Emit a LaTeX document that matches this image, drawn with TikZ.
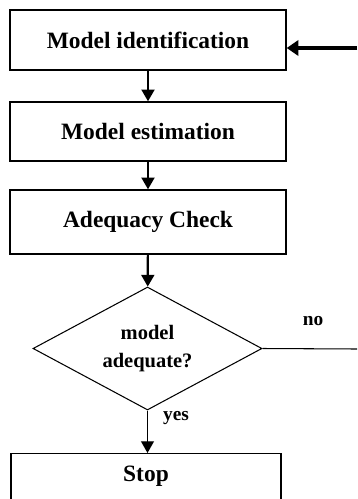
\documentclass[tikz,border=0pt]{standalone}
\usepackage{fontspec}
\setmainfont{Liberation Serif}
\usetikzlibrary{shapes.geometric,arrows.meta}
\begin{document}
\begin{tikzpicture} [x=0.03cm,y=-0.03cm,myb/.style={rectangle, draw, line width=1.2pt, minimum width=8.28cm, font=\fontsize{20}{24}\selectfont\bfseries},myd/.style={diamond, draw, aspect=1.86, line width=0.9pt, inner sep=0pt, minimum width=6.87cm, minimum height=3.69cm, align=center, font=\fontsize{17.5}{24}\selectfont\bfseries},myl/.style={font=\fontsize{16.5}{18}\selectfont\bfseries},mya/.style={line width=1.9pt, -{Triangle[width=11pt,length=10pt]}}]
 % \draw[help lines] (0,0) grid (357,499);
  \useasboundingbox (0,0) rectangle (357,499);

  \node[myb, minimum height=1.8cm] (a) at (148,40) {Model identification};
  \node[myb, minimum height=1.77cm] (b) at (148,131.5) {Model estimation};
  \node[myb, minimum height=1.92cm] (c) at (148,222) {Adequacy Check};

  \node[myd] (d) at (147.5,348.5) {model\\adequate?};
  \node[myb, minimum width=8.1cm, anchor=north, inner sep=0pt, text height=24pt, text depth=26pt] (e) at (146,453) {Stop};

  \node[myl] (no) at (313,321) {no};
  \node[myl] (yes) at (176,418) {yes};
  \coordinate (r1) at (357,349);
  \coordinate (r2) at (357,48);

    \draw[mya] (a) -- (b);
    \draw[mya] (b) -- (c);
    \draw[mya] (c) -- (d);
    \draw[mya, line width=1.2pt] (d.south) -- (d.south |- e.north);
    \draw[line width=0.9pt] (d.east) -- (r1);
    \draw[line width=3.6pt, -{Triangle[width=13pt,length=10pt]}] (r2) -- (r2 -| a.east);

\end{tikzpicture}
\end{document}
